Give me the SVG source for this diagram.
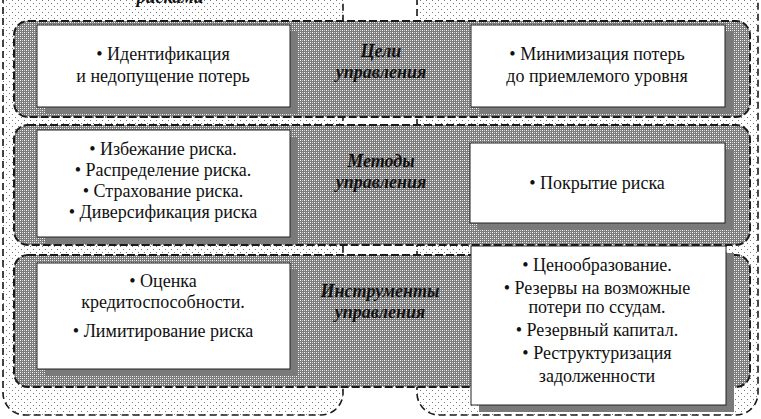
<svg xmlns="http://www.w3.org/2000/svg" width="761" height="419" viewBox="0 0 761 419">
<defs>
<pattern id="dots" width="6" height="6" patternUnits="userSpaceOnUse">
<rect width="6" height="6" fill="#ffffff"/>
<rect x="0" y="0" width="1" height="1" fill="#7a7a7a"/>
<rect x="3" y="3" width="1" height="1" fill="#7a7a7a"/>
</pattern>
<pattern id="checker" width="4" height="4" patternUnits="userSpaceOnUse">
<rect width="4" height="4" fill="#7c7c7c"/>
<rect x="0" y="0" width="1" height="1" fill="#ffffff"/>
<rect x="2" y="2" width="1" height="1" fill="#ffffff"/>
<rect x="2" y="0" width="1" height="1" fill="#cfcfcf"/>
<rect x="0" y="2" width="1" height="1" fill="#cfcfcf"/>
</pattern>
<style>
.cont{fill:url(#dots);stroke:#1a1a1a;stroke-width:1.6;stroke-dasharray:7 4}
.band{fill:url(#checker);stroke:#1a1a1a;stroke-width:2;stroke-dasharray:8 3}
.box{fill:#ffffff;stroke:#222;stroke-width:1}
.shadow{fill:#7a7a7a}
.t{font-family:"Liberation Serif","Times New Roman",serif;font-size:18px;fill:#111;text-anchor:middle}
.lbl{font-family:"Liberation Serif","Times New Roman",serif;font-size:18px;font-weight:bold;font-style:italic;fill:#111;text-anchor:middle}
</style>
</defs>
<rect width="761" height="419" fill="#ffffff"/>
<g id="container-left">
<rect class="cont" x="3" y="-40" width="340" height="455" rx="22"/>
<text class="lbl" x="170" y="3">рисками</text>
</g>
<g id="container-right">
<rect class="cont" x="417" y="-40" width="341" height="455" rx="22"/>
</g>
<g id="band-goals">
<rect class="band" x="14" y="21" width="736" height="96" rx="14"/>
<text class="lbl" x="381" y="57">Цели</text>
<text class="lbl" x="381" y="78">управления</text>
</g>
<g id="band-methods">
<rect class="band" x="14" y="125" width="736" height="120" rx="14"/>
<text class="lbl" x="381" y="167">Методы</text>
<text class="lbl" x="381" y="188">управления</text>
</g>
<g id="band-tools">
<rect class="band" x="14" y="255" width="736" height="132" rx="14"/>
<text class="lbl" x="380" y="297">Инструменты</text>
<text class="lbl" x="380" y="318">управления</text>
</g>
<g id="goal-left">
<rect class="shadow" x="45" y="32" width="253" height="82"/>
<rect class="box" x="37" y="25" width="253" height="82"/>
<text class="t" x="163" y="60">• Идентификация</text>
<text class="t" x="163" y="82">и недопущение потерь</text>
</g>
<g id="goal-right">
<rect class="shadow" x="479" y="32" width="254" height="82"/>
<rect class="box" x="471" y="25" width="254" height="82"/>
<text class="t" x="597" y="60">• Минимизация потерь</text>
<text class="t" x="597" y="82">до приемлемого уровня</text>
</g>
<g id="methods-left">
<rect class="shadow" x="45" y="137" width="253" height="107"/>
<rect class="box" x="37" y="130" width="253" height="107"/>
<text class="t" x="163" y="155">• Избежание риска.</text>
<text class="t" x="163" y="176">• Распределение риска.</text>
<text class="t" x="163" y="197">• Страхование риска.</text>
<text class="t" x="163" y="218">• Диверсификация риска</text>
</g>
<g id="methods-right">
<rect class="shadow" x="478" y="150" width="255" height="80"/>
<rect class="box" x="470" y="143" width="255" height="80"/>
<text class="t" x="597" y="189">• Покрытие риска</text>
</g>
<g id="tools-left">
<rect class="shadow" x="45" y="270" width="253" height="106"/>
<rect class="box" x="37" y="263" width="253" height="106"/>
<text class="t" x="163" y="287">• Оценка</text>
<text class="t" x="163" y="308">кредитоспособности.</text>
<text class="t" x="163" y="337">• Лимитирование риска</text>
</g>
<g id="tools-right">
<rect class="shadow" x="479" y="253" width="255" height="159"/>
<rect class="box" x="471" y="246" width="255" height="159"/>
<text class="t" x="597" y="271">• Ценообразование.</text>
<text class="t" x="597" y="294">• Резервы на возможные</text>
<text class="t" x="597" y="313">потери по ссудам.</text>
<text class="t" x="597" y="336">• Резервный капитал.</text>
<text class="t" x="597" y="359">• Реструктуризация</text>
<text class="t" x="597" y="382">задолженности</text>
</g>
<g id="connectors"/>
</svg>
